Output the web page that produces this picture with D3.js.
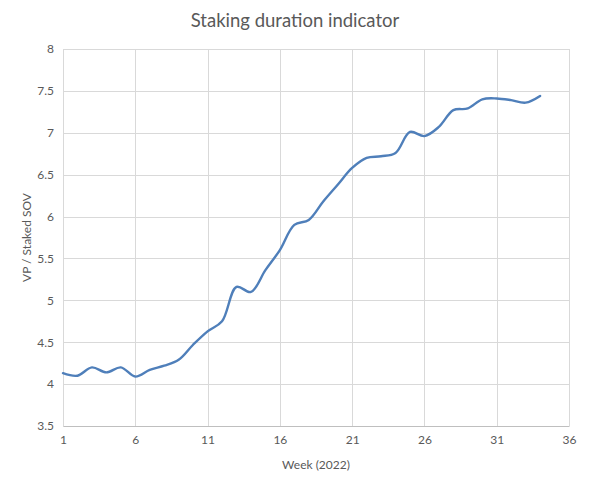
<!DOCTYPE html>
<html>
<head>
<meta charset="utf-8">
<script src="https://cdn.jsdelivr.net/npm/d3@7"></script>
<style>
  body { margin: 0; background: #fff; }
  svg text { font-family: Lato, "Open Sans", sans-serif; fill: #595959; }
</style>
</head>
<body>
<div id="wrapper"></div>
<script>
// weekly values
const weeks = d3.range(1, 35);
const ratio = [4.13, 4.10, 4.20, 4.14, 4.20, 4.09, 4.17, 4.22, 4.29, 4.47,
               4.63, 4.75, 5.16, 5.10, 5.36, 5.60, 5.90, 5.96, 6.18, 6.38,
               6.58, 6.70, 6.72, 6.76, 7.01, 6.96, 7.07, 7.27, 7.29, 7.40,
               7.41, 7.39, 7.36, 7.44];
const xTicks = [1, 6, 11, 16, 21, 26, 31, 36];
const yTicks = [3.5, 4, 4.5, 5, 5.5, 6, 6.5, 7, 7.5, 8];

const data = weeks.map((w, i) => ({week: w, value: ratio[i]}));

var dimension = {
    width: 604,
    height: 488,
    margin: { top: 49, left: 63, bottom: 62, right: 35 }
};
dimension.boundedWidth = dimension.width - dimension.margin.left - dimension.margin.right;
dimension.boundedHeight = dimension.height - dimension.margin.top - dimension.margin.bottom;

const svg = d3.select("#wrapper").append("svg")
    .attr("width", dimension.width)
    .attr("height", dimension.height);

const bounded = svg.append("g")
    .attr("transform", `translate(${dimension.margin.left}, ${dimension.margin.top})`);

const xScaler = d3.scaleLinear().domain([1, 36]).range([0, dimension.boundedWidth]);
const yScaler = d3.scaleLinear().domain([3.5, 8]).range([dimension.boundedHeight, 0]);

// grid
bounded.append("g")
    .selectAll("line.h")
    .data(yTicks)
    .join("line")
    .attr("x1", 0).attr("x2", dimension.boundedWidth)
    .attr("y1", d => Math.round(yScaler(d)) + 0.5)
    .attr("y2", d => Math.round(yScaler(d)) + 0.5)
    .attr("stroke", "#d9d9d9");

bounded.append("g")
    .selectAll("line.v")
    .data(xTicks)
    .join("line")
    .attr("y1", 0).attr("y2", dimension.boundedHeight)
    .attr("x1", d => Math.round(xScaler(d)) + 0.5)
    .attr("x2", d => Math.round(xScaler(d)) + 0.5)
    .attr("stroke", "#d9d9d9");

// axes
const xAxis = d3.axisBottom(xScaler).tickValues(xTicks).tickSize(0).tickPadding(9);
const yAxis = d3.axisLeft(yScaler).tickValues(yTicks).tickSize(0).tickPadding(9)
    .tickFormat(d3.format("~g"));

const gx = bounded.append("g")
    .attr("transform", `translate(0, ${dimension.boundedHeight})`)
    .call(xAxis);
const gy = bounded.append("g").call(yAxis);
[gx, gy].forEach(g => {
    g.select(".domain").attr("stroke", "#bfbfbf");
    g.selectAll("text").style("font-size", "12px").attr("fill", "#595959");
});
gy.select(".domain").attr("stroke", "#d9d9d9");

// line
const line = d3.line()
    .x(d => xScaler(d.week))
    .y(d => yScaler(d.value))
    .curve(d3.curveCatmullRom.alpha(0.5));

bounded.append("path")
    .attr("d", line(data))
    .attr("fill", "none")
    .attr("stroke", "#4f7fba")
    .attr("stroke-width", 2.4)
    .attr("stroke-linecap", "round");

// titles
svg.append("text")
    .attr("x", 295).attr("y", 27)
    .attr("text-anchor", "middle")
    .style("font-size", "18.5px")
    .text("Staking duration indicator");

svg.append("text")
    .attr("x", dimension.margin.left + dimension.boundedWidth / 2)
    .attr("y", 469)
    .attr("text-anchor", "middle")
    .style("font-size", "12px")
    .text("Week (2022)");

svg.append("text")
    .attr("transform", `translate(31, ${dimension.margin.top + dimension.boundedHeight / 2}) rotate(-90)`)
    .attr("text-anchor", "middle")
    .style("font-size", "12px")
    .text("VP / Staked SOV");
</script>
</body>
</html>
